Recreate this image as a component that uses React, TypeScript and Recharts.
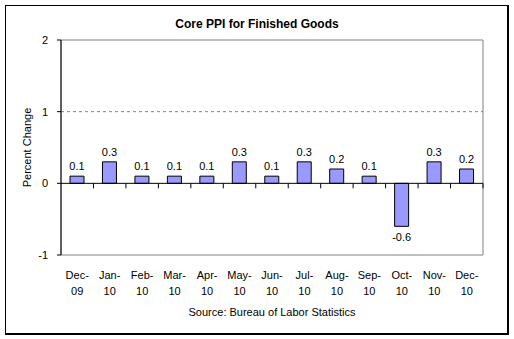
import React from 'react';
import {
  BarChart,
  Bar,
  XAxis,
  YAxis,
  ReferenceLine,
  ReferenceArea,
  LabelList,
} from 'recharts';

const months = ['Dec-09', 'Jan-10', 'Feb-10', 'Mar-10', 'Apr-10', 'May-10', 'Jun-10', 'Jul-10', 'Aug-10', 'Sep-10', 'Oct-10', 'Nov-10', 'Dec-10'];
const ppiChange = [0.1, 0.3, 0.1, 0.1, 0.1, 0.3, 0.1, 0.3, 0.2, 0.1, -0.6, 0.3, 0.2];
const yTicks = [-1, 0, 1, 2];

const FONT = '"Liberation Sans", Arial, sans-serif';
const W = 514;
const H = 339;
const PLOT_TOP = 40;
const PLOT_BOTTOM = 255;
const Y_MIN = -1;
const Y_MAX = 2;
// y pixel of the zero line, from the value axis scale
const zeroY = PLOT_TOP + ((Y_MAX - 0) / (Y_MAX - Y_MIN)) * (PLOT_BOTTOM - PLOT_TOP);

const data = months.map((m, i) => ({ month: m, value: ppiChange[i] }));

function MonthTick(props: any) {
  const { x, y, payload } = props;
  const [mon, yr] = String(payload.value).split('-');
  const half = payload.offset ?? 16.2;
  return (
    <g>
      <line x1={x + half} x2={x + half} y1={zeroY} y2={zeroY + 5} stroke="#000" />
      <text x={x} y={y + 16} textAnchor="middle" fontSize={11} fontFamily={FONT} fill="#000">
        {mon}-
      </text>
      <text x={x} y={y + 32} textAnchor="middle" fontSize={11} fontFamily={FONT} fill="#000">
        {yr}
      </text>
    </g>
  );
}

function ValueLabel(props: any) {
  const { x, y, width, height, value } = props;
  const neg = value < 0;
  const top = Math.min(y, y + height);
  const bottom = Math.max(y, y + height);
  return (
    <text
      x={x + width / 2}
      y={neg ? bottom + 15 : top - 6}
      textAnchor="middle"
      fontSize={11}
      fontFamily={FONT}
      fill="#000"
    >
      {value.toFixed(1)}
    </text>
  );
}

export default function App() {
  return (
    <div style={{ position: 'absolute', left: 0, top: 0, width: W, height: H, background: '#fff' }}>
      <div
        style={{
          position: 'absolute',
          left: 5,
          top: 5,
          width: 501,
          height: 327,
          borderTop: '1px solid #000',
          borderLeft: '1px solid #000',
          borderRight: '2px solid #000',
          borderBottom: '2px solid #000',
        }}
      />
      <div style={{ position: 'absolute', left: 0, top: 0 }}>
        <BarChart
          width={W}
          height={H}
          data={data}
          margin={{ top: PLOT_TOP, right: 31, bottom: 0, left: 1 }}
          barSize={14}
        >
          <ReferenceArea y1={Y_MIN} y2={Y_MAX} fill="none" stroke="#808080" strokeWidth={1} />
          <ReferenceLine y={1} stroke="#808080" strokeDasharray="3 3" />
          <XAxis
            dataKey="month"
            axisLine={false}
            tickLine={false}
            interval={0}
            tick={<MonthTick />}
            height={H - PLOT_BOTTOM}
          />
          <YAxis
            width={60}
            domain={[Y_MIN, Y_MAX]}
            ticks={yTicks}
            interval={0}
            axisLine={{ stroke: '#000' }}
            tickLine={{ stroke: '#000' }}
            tickSize={4}
            tickMargin={9}
            tick={{ fontSize: 11, fontFamily: FONT, fill: '#000' }}
            label={{
              value: 'Percent Change',
              angle: -90,
              position: 'insideLeft',
              offset: 0,
              dx: 26,
              style: { fontSize: 11, fontFamily: FONT, fill: '#000', textAnchor: 'middle' },
            }}
          />
          <ReferenceLine y={0} stroke="#000" />
          <Bar dataKey="value" fill="#9999FF" stroke="#000" strokeWidth={1} isAnimationActive={false}>
            <LabelList dataKey="value" content={<ValueLabel />} />
          </Bar>
          <text x={257} y={28} textAnchor="middle" fontSize={12} fontWeight="bold" fontFamily={FONT} fill="#000">
            Core PPI for Finished Goods
          </text>
          <text x={272} y={316} textAnchor="middle" fontSize={11} fontFamily={FONT} fill="#000">
            Source: Bureau of Labor Statistics
          </text>
        </BarChart>
      </div>
    </div>
  );
}
